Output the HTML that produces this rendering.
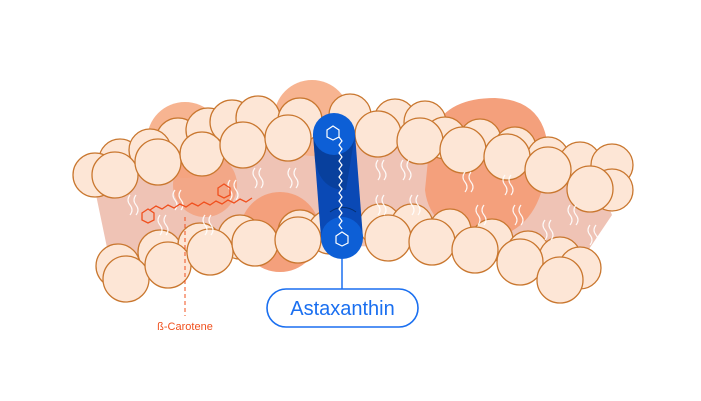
<!DOCTYPE html>
<html><head><meta charset="utf-8"><style>html,body{margin:0;padding:0;background:#fff}svg{display:block}</style></head>
<body>
<svg width="701" height="401" viewBox="0 0 701 401" xmlns="http://www.w3.org/2000/svg">
<polygon points="95,190 160,160 330,140 420,150 600,185 612,215 585,255 330,245 200,250 110,262" fill="#efc3b5"/>
<circle cx="185" cy="140" r="38" fill="#f7b491"/>
<circle cx="312" cy="118" r="38" fill="#f7b491"/>
<circle cx="205" cy="185" r="32" fill="#f4a07c" opacity="0.8"/>
<circle cx="280" cy="232" r="40" fill="#f4a07c"/>
<path d="M430,140 Q440,98 495,98 Q545,100 548,150 Q545,230 490,238 Q430,235 425,190 Z" fill="#f4a07c"/>
<g fill="#fde6d6" stroke="#c9772f" stroke-width="1.3">
<circle cx="178" cy="140" r="22"/><circle cx="208" cy="130" r="22"/><circle cx="232" cy="122" r="22"/>
<circle cx="258" cy="118" r="22"/><circle cx="300" cy="120" r="22"/><circle cx="350" cy="115" r="21"/>
<circle cx="395" cy="120" r="21"/><circle cx="425" cy="122" r="21"/><circle cx="445" cy="138" r="21"/>
<circle cx="480" cy="140" r="21"/><circle cx="515" cy="148" r="21"/><circle cx="548" cy="158" r="21"/>
<circle cx="580" cy="163" r="21"/><circle cx="612" cy="165" r="21"/><circle cx="612" cy="190" r="21"/>
<circle cx="120" cy="160" r="21"/><circle cx="150" cy="150" r="21"/>
<circle cx="95" cy="175" r="22"/><circle cx="115" cy="175" r="23"/><circle cx="158" cy="162" r="23"/>
<circle cx="202" cy="154" r="22"/><circle cx="243" cy="145" r="23"/><circle cx="288" cy="138" r="23"/>
<circle cx="378" cy="134" r="23"/><circle cx="420" cy="141" r="23"/><circle cx="463" cy="150" r="23"/>
<circle cx="507" cy="157" r="23"/><circle cx="548" cy="170" r="23"/><circle cx="590" cy="189" r="23"/>
<circle cx="118" cy="266" r="22"/><circle cx="160" cy="252" r="22"/><circle cx="200" cy="245" r="22"/>
<circle cx="240" cy="237" r="22"/><circle cx="300" cy="232" r="22"/><circle cx="330" cy="232" r="22"/>
<circle cx="380" cy="225" r="21"/><circle cx="412" cy="225" r="21"/><circle cx="450" cy="230" r="21"/>
<circle cx="492" cy="240" r="21"/><circle cx="528" cy="252" r="21"/><circle cx="560" cy="258" r="21"/>
<circle cx="580" cy="268" r="21"/>
<circle cx="126" cy="279" r="23"/><circle cx="168" cy="265" r="23"/><circle cx="210" cy="252" r="23"/>
<circle cx="255" cy="243" r="23"/><circle cx="298" cy="240" r="23"/><circle cx="388" cy="238" r="23"/>
<circle cx="432" cy="242" r="23"/><circle cx="475" cy="250" r="23"/><circle cx="520" cy="262" r="23"/>
<circle cx="560" cy="280" r="23"/>
</g>
<g fill="none" stroke="#fff" stroke-width="1.2" opacity="0.9">
<path d="M130,195 q-4,5 0,10 q4,5 0,10 M136,195 q-4,5 0,10 q4,5 0,10"/>
<path d="M175,190 q-4,5 0,10 q4,5 0,10 M181,190 q-4,5 0,10 q4,5 0,10"/>
<path d="M160,215 q-4,5 0,10 q4,5 0,10 M166,215 q-4,5 0,10 q4,5 0,10"/>
<path d="M205,215 q-4,5 0,10 q4,5 0,10 M211,215 q-4,5 0,10 q4,5 0,10"/>
<path d="M255,168 q-4,5 0,10 q4,5 0,10 M261,168 q-4,5 0,10 q4,5 0,10"/>
<path d="M290,168 q-4,5 0,10 q4,5 0,10 M296,168 q-4,5 0,10 q4,5 0,10"/>
<path d="M378,160 q-4,5 0,10 q4,5 0,10 M384,160 q-4,5 0,10 q4,5 0,10"/>
<path d="M403,160 q-4,5 0,10 q4,5 0,10 M409,160 q-4,5 0,10 q4,5 0,10"/>
<path d="M378,195 q-4,5 0,10 q4,5 0,10 M384,195 q-4,5 0,10 q4,5 0,10"/>
<path d="M412,195 q-4,5 0,10 q4,5 0,10 M418,195 q-4,5 0,10 q4,5 0,10"/>
<path d="M465,172 q-4,5 0,10 q4,5 0,10 M471,172 q-4,5 0,10 q4,5 0,10"/>
<path d="M505,175 q-4,5 0,10 q4,5 0,10 M511,175 q-4,5 0,10 q4,5 0,10"/>
<path d="M478,205 q-4,5 0,10 q4,5 0,10 M484,205 q-4,5 0,10 q4,5 0,10"/>
<path d="M515,205 q-4,5 0,10 q4,5 0,10 M521,205 q-4,5 0,10 q4,5 0,10"/>
<path d="M545,220 q-4,5 0,10 q4,5 0,10 M551,220 q-4,5 0,10 q4,5 0,10"/>
<path d="M570,205 q-4,5 0,10 q4,5 0,10 M576,205 q-4,5 0,10 q4,5 0,10"/>
<path d="M590,225 q-4,5 0,10 q4,5 0,10 M596,225 q-4,5 0,10 q4,5 0,10"/>
<path d="M230,180 q-4,5 0,10 q4,5 0,10 M236,180 q-4,5 0,10 q4,5 0,10"/>
</g>
<g fill="none" stroke="#f0501e" stroke-width="1.3">
<path d="M150,210 l6,-4 l6,3 l6,-4 l6,3 l6,-4 l6,3 l6,-4 l6,3 l6,-4 l6,3 l6,-4 l6,3 l6,-4 l6,3 l6,-4 l6,3 l6,-4"/>
<polygon points="142,213 148,209 154,213 154,220 148,223 142,220"/>
<polygon points="218,188 224,184 230,188 230,195 224,198 218,195"/>
</g>
<line x1="185" y1="217" x2="185" y2="316" stroke="#f0501e" stroke-width="1" stroke-dasharray="4,3"/>
<text x="185" y="330" font-family="Liberation Sans, sans-serif" font-size="11" fill="#f0501e" text-anchor="middle">ß-Carotene</text>
<polygon points="313,134 355,134 363,238 321,238" fill="#0a49b5"/>
<path d="M313,134 L355,134 L346,190 Q320,190 315,160 Z" fill="#063a8e" opacity="0.6"/>
<circle cx="334" cy="134" r="21" fill="#0d5fd6"/>
<circle cx="342" cy="238" r="21" fill="#0d5fd6"/>
<path d="M330,212 a21,21 0 0 1 26,0" fill="none" stroke="#062f70" stroke-width="1"/>
<g fill="none" stroke="#fff" stroke-width="1.2">
<polygon points="327,130 333,126 339,130 339,137 333,140 327,137"/>
<path d="M339,137 l3,4 l-3,4 l3,4 l-3,4 l3,4 l-3,4 l3,4 l-3,4 l3,4 l-3,4 l3,4 l-3,4 l3,4 l-3,4 l3,4 l-3,4 l3,4 l-3,4 l3,4 l-3,4 l3,4 l-3,4 l3,4"/>
<polygon points="336,236 342,232 348,236 348,243 342,246 336,243"/>
</g>
<line x1="342" y1="259" x2="342" y2="290" stroke="#1a6ff0" stroke-width="1.5"/>
<rect x="267" y="289" width="151" height="38" rx="19" fill="#fff" stroke="#1a6ff0" stroke-width="1.6"/>
<text x="342.5" y="315" font-family="Liberation Sans, sans-serif" font-size="20" fill="#1a6ff0" text-anchor="middle">Astaxanthin</text>
</svg>
</body></html>
